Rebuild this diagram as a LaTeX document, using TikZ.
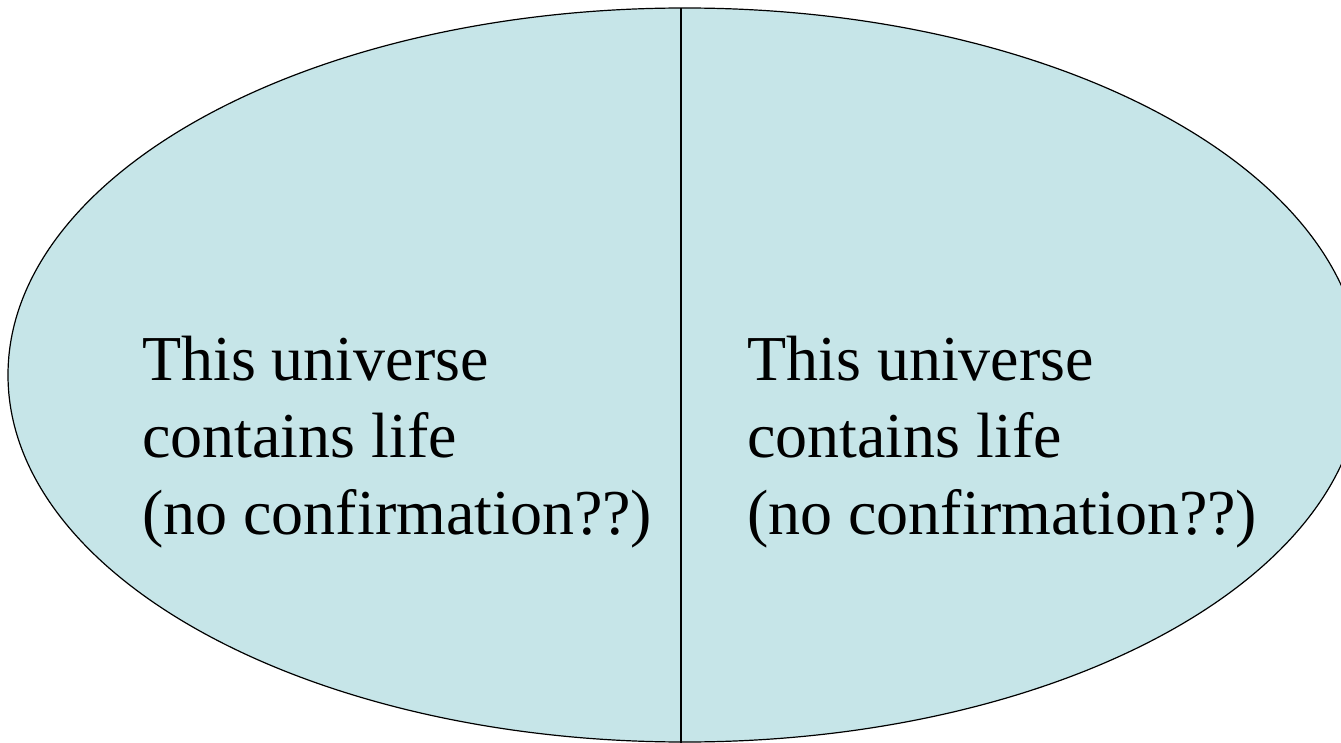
\documentclass[tikz,border=0pt]{standalone}
\usepackage{fontspec}
\setmainfont{Liberation Serif}
\usetikzlibrary{shapes.geometric}
\definecolor{lightcyan}{RGB}{198,229,232}
\tikzset{
  universe/.style={ellipse, draw=black, line width=1.2pt, fill=lightcyan, inner sep=0pt,
    minimum width=1353.6pt, minimum height=734pt},
  lifetext/.style={anchor=base west, align=left, inner sep=0pt,
    font=\fontsize{64}{77}\selectfont},
  divider/.style={draw=black, line width=1.4pt}
}
\begin{document}
\begin{tikzpicture}[x=1pt,y=-1pt]
  \useasboundingbox (0,0) rectangle (1341,743);
  \clip (0,0) rectangle (1341,743);
  \node[universe] (u) at (684.8,375) {};
  \coordinate (top) at (681,8);
  \coordinate (bot) at (681,743);
  \draw[divider] (top) -- (bot);
  \node[lifetext] (left) at (142,534) {This universe\\contains life\\(no confirmation??)};
  \node[lifetext] (right) at (747,534) {This universe\\contains life\\(no confirmation??)};
\end{tikzpicture}
\end{document}
